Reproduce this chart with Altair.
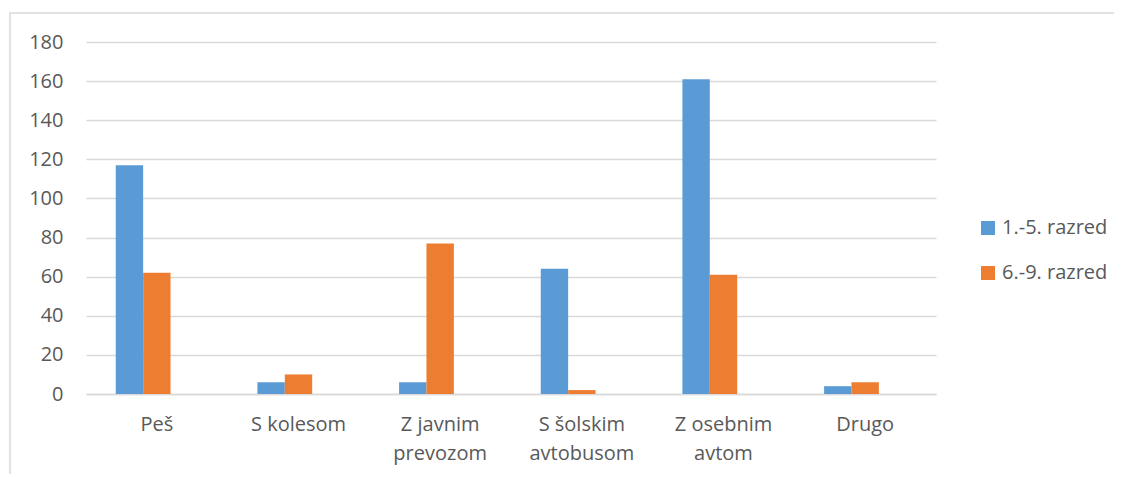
import altair as alt
import pandas as pd

categories = ["Peš", "S kolesom", "Z javnim|prevozom", "S šolskim|avtobusom", "Z osebnim|avtom", "Drugo"]
series = ["1.-5. razred", "6.-9. razred"]
values_1_5 = [117, 6, 6, 64, 161, 4]
values_6_9 = [62, 10, 77, 2, 61, 6]
colors = ["#5B9BD5", "#ED7D31"]

rows = []
for c, a, b in zip(categories, values_1_5, values_6_9):
    rows.append({"kat": c, "serija": series[0], "v": a})
    rows.append({"kat": c, "serija": series[1], "v": b})
df = pd.DataFrame(rows)

FONT = "Open Sans"
GRAY = "#595959"

bars = alt.Chart(df).mark_bar().encode(
    x=alt.X("kat:N", sort=categories, title=None,
            scale=alt.Scale(paddingInner=0.42, paddingOuter=0.21),
            axis=alt.Axis(labelAngle=0, ticks=False, domain=True, domainColor="#D9D9D9",
                          domainWidth=1.5, labelPadding=20, labelLineHeight=29,
                          labelExpr="split(datum.label, '|')")),
    xOffset=alt.XOffset("serija:N", scale=alt.Scale(domain=series + ["_"], paddingInner=0, paddingOuter=0)),
    y=alt.Y("v:Q", title=None,
            scale=alt.Scale(domain=[0, 180]),
            axis=alt.Axis(values=list(range(0, 181, 20)), ticks=False, domain=False,
                          gridColor="#D9D9D9", gridWidth=1.5, labelPadding=23)),
    color=alt.Color("serija:N", scale=alt.Scale(domain=series, range=colors),
                    legend=alt.Legend(title=None, orient="none", legendX=892, legendY=176,
                                      symbolType="square", symbolSize=196, symbolStrokeWidth=0,
                                      rowPadding=25, labelFontSize=20, labelColor=GRAY,
                                      labelFont=FONT, labelOffset=4)),
)

frame = alt.Chart(pd.DataFrame({"a": [0]})).mark_rect(
    fill=None, stroke="#D9D9D9", strokeWidth=1.5
).encode(x=alt.value(-76), x2=alt.value(1300), y=alt.value(-29), y2=alt.value(700))

chart = alt.layer(frame, bars).properties(
    width=850, height=352,
    padding={"left": 78, "top": 34, "right": 178, "bottom": 80},
    autosize=alt.AutoSizeParams(type="none"),
    background="white",
).configure_view(stroke=None).configure_axis(
    labelFont=FONT, labelFontSize=20, labelColor=GRAY
).configure_legend(labelFontSize=20, labelFont=FONT, labelColor=GRAY)

chart.save("out.html", embed_options={"renderer": "svg", "actions": False})
